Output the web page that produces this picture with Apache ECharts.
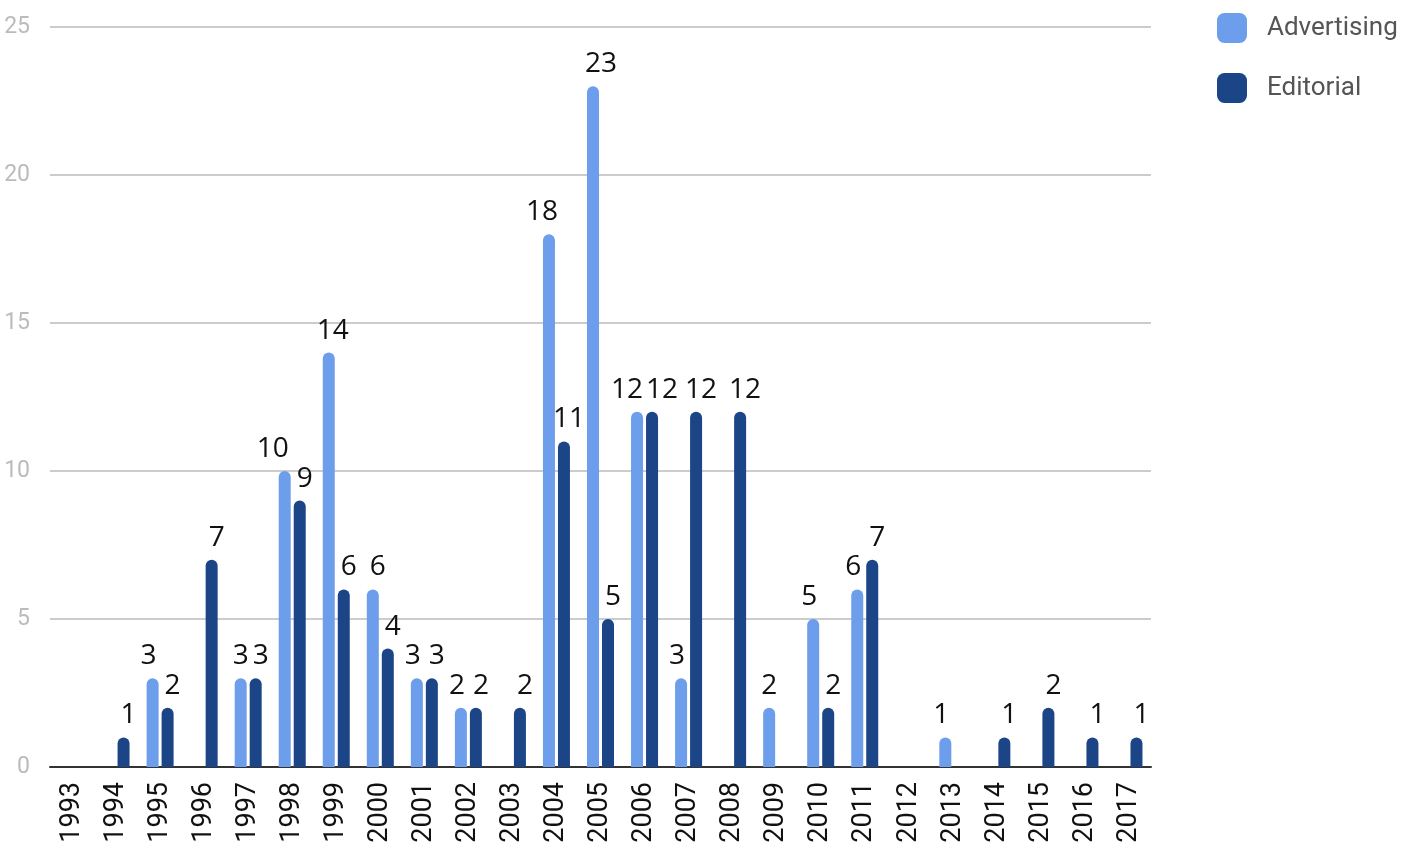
<!DOCTYPE html>
<html>
<head>
<meta charset="utf-8">
<script src="https://cdn.jsdelivr.net/npm/echarts@6/dist/echarts.min.js"></script>
<style>
  html, body { margin: 0; padding: 0; background: #fff; }
  #chart { width: 1412px; height: 849px; }
</style>
</head>
<body>
<div id="chart"></div>
<script>
// years on the x axis
const years = ['1993','1994','1995','1996','1997','1998','1999','2000','2001','2002','2003','2004','2005',
  '2006','2007','2008','2009','2010','2011','2012','2013','2014','2015','2016','2017'];
// null = no bar for that year
const advertising = [null,null,3,null,3,10,14,6,3,2,null,18,23,12,3,null,2,5,6,null,1,null,null,null,null];
const editorial = [null,1,2,7,3,9,6,4,3,2,2,11,5,12,12,12,null,2,7,null,null,1,2,1,1];

// horizontal nudges of value labels so neighbours don't collide (px)
const labelNudge = {
  0: { default: -4, 4: 0, 5: -12, 6: 4, 7: 5, 11: -7, 12: 8, 13: -10, 16: 0 },
  1: { default: 5, 13: 10 }
};

const chart = echarts.init(document.getElementById('chart'));

const labelStyle = {
  show: true,
  position: 'top',
  distance: 8,
  color: '#111',
  fontSize: 28,
  fontFamily: 'Open Sans'
};

chart.setOption({
  animation: false,
  grid: { left: 50, right: 261, top: 27, bottom: 82 },
  legend: {
    orient: 'vertical',
    left: 1212,
    top: 8,
    itemWidth: 30,
    itemHeight: 30,
    itemGap: 30,
    icon: 'roundRect',
    textStyle: { fontSize: 26, color: '#555', fontFamily: 'Roboto', padding: [0, 0, 0, 15] },
    data: ['Advertising', 'Editorial']
  },
  xAxis: {
    type: 'category',
    data: years,
    axisLine: { lineStyle: { color: '#333', width: 2 } },
    axisTick: { show: false },
    axisLabel: {
      rotate: 90,
      interval: 0,
      margin: 15,
      fontSize: 27,
      color: '#111',
      fontFamily: 'Roboto'
    }
  },
  yAxis: {
    type: 'value',
    min: 0,
    max: 25,
    interval: 5,
    axisLine: { show: false },
    axisTick: { show: false },
    splitLine: { lineStyle: { color: '#cccccc', width: 2 } },
    axisLabel: { fontSize: 23, color: '#bbbbbb', margin: 20, fontFamily: 'Roboto' }
  },
  labelLayout: function (p) {
    const m = labelNudge[p.seriesIndex];
    const dx = m[p.dataIndex] !== undefined ? m[p.dataIndex] : m.default;
    return { dx: dx };
  },
  series: [
    {
      name: 'Advertising',
      type: 'bar',
      data: advertising,
      barWidth: 12,
      barGap: '25%',
      itemStyle: { color: '#6d9eeb', borderRadius: [6, 6, 0, 0] },
      label: labelStyle
    },
    {
      name: 'Editorial',
      type: 'bar',
      data: editorial,
      barWidth: 12,
      itemStyle: { color: '#1c4587', borderRadius: [6, 6, 0, 0] },
      label: labelStyle
    }
  ]
});
</script>
</body>
</html>
